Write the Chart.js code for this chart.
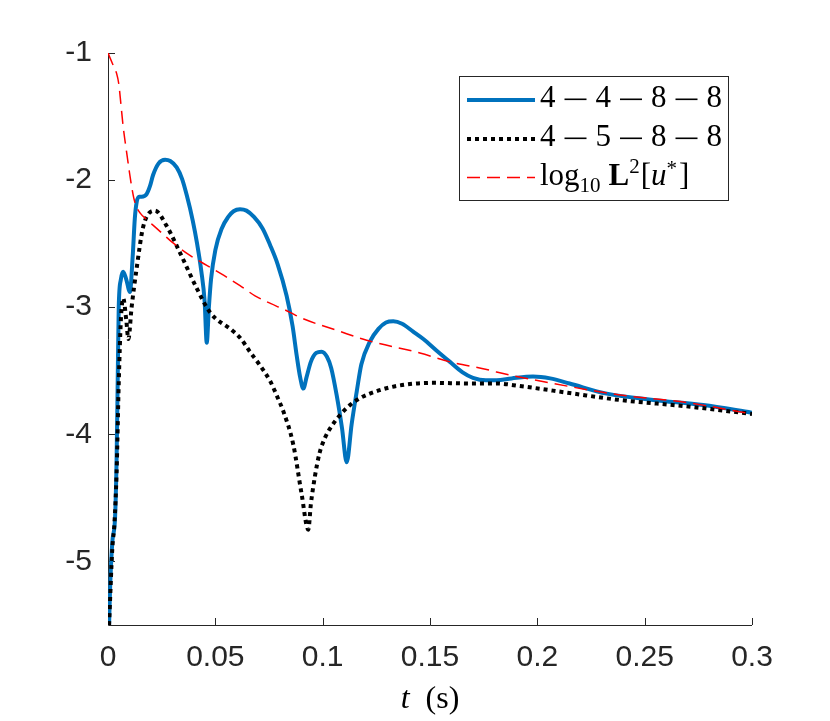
<!DOCTYPE html>
<html>
<head>
<meta charset="utf-8">
<script src="https://cdn.jsdelivr.net/npm/chart.js@4.4.1/dist/chart.umd.min.js"></script>
<style>
  html, body { margin: 0; padding: 0; background: #fff; }
  #wrap { width: 830px; height: 721px; }
</style>
</head>
<body>
<div id="wrap"><canvas id="plot"></canvas></div>
<script>
// values: t in seconds, error in log10
const tBlue = [0.0005, 0.001, 0.002, 0.0033, 0.004, 0.0045, 0.005, 0.006, 0.0071, 0.0085, 0.0102, 0.0115, 0.0125,
  0.0134, 0.0145, 0.0157, 0.018, 0.0195, 0.021, 0.0235, 0.0266, 0.029, 0.032, 0.0345, 0.0367, 0.0395, 0.0415,
  0.0435, 0.045, 0.046, 0.047, 0.048, 0.050, 0.053, 0.056, 0.0585, 0.0615, 0.0645, 0.068, 0.072, 0.0755, 0.079,
  0.0832, 0.086, 0.0879, 0.0895, 0.091, 0.0925, 0.0945, 0.097, 0.0995, 0.102, 0.104, 0.1065, 0.109, 0.1112,
  0.1135, 0.1159, 0.118, 0.122, 0.126, 0.1295, 0.1329, 0.137, 0.142, 0.1469, 0.153, 0.1593, 0.165, 0.170, 0.176,
  0.181, 0.188, 0.198, 0.206, 0.215, 0.2323, 0.254, 0.2773, 0.3];
const errBlue = [-5.5, -5.2, -4.85, -4.65, -4.2, -3.6, -3.0, -2.78, -2.72, -2.78, -2.88, -2.6, -2.3,
  -2.17, -2.13, -2.13, -2.11, -2.05, -1.96, -1.87, -1.84, -1.85, -1.9, -1.99, -2.12, -2.32, -2.5,
  -2.72, -2.95, -3.28, -3.0, -2.78, -2.55, -2.38, -2.29, -2.245, -2.23, -2.24, -2.29, -2.38, -2.51, -2.66,
  -2.91, -3.15, -3.38, -3.55, -3.64, -3.55, -3.43, -3.36, -3.35, -3.39, -3.48, -3.69, -3.95, -4.22,
  -3.92, -3.66, -3.45, -3.27, -3.17, -3.12, -3.11, -3.13, -3.19, -3.25, -3.34, -3.43, -3.51, -3.555, -3.575,
  -3.575, -3.56, -3.545, -3.56, -3.60, -3.68, -3.73, -3.77, -3.83];

const tBlack = [0.0005, 0.002, 0.003, 0.004, 0.005, 0.006, 0.0071, 0.0085, 0.0095, 0.011, 0.0133, 0.0165, 0.0219,
  0.0273, 0.0335, 0.0413, 0.0475, 0.0584, 0.062, 0.0661, 0.0705, 0.0755, 0.079, 0.0817, 0.0863, 0.0902, 0.0933,
  0.0945, 0.0964, 0.0985, 0.101, 0.104, 0.108, 0.1127, 0.118, 0.1252, 0.136, 0.1515, 0.1686, 0.181, 0.1919,
  0.215, 0.2385, 0.2696, 0.3];
const errBlack = [-5.5, -4.9, -4.7, -4.3, -3.6, -3.1, -2.93, -3.1, -3.25, -3.0, -2.70, -2.36, -2.24,
  -2.36, -2.57, -2.85, -3.04, -3.19, -3.25, -3.35, -3.45, -3.58, -3.71, -3.82, -4.08, -4.47, -4.75,
  -4.55, -4.33, -4.15, -4.03, -3.94, -3.85, -3.77, -3.71, -3.66, -3.615, -3.595, -3.60, -3.60, -3.62,
  -3.675, -3.73, -3.78, -3.84];

const tRed = [0, 0.001, 0.002, 0.003, 0.004, 0.005, 0.006, 0.007, 0.008, 0.009, 0.010, 0.011, 0.012, 0.013, 0.015,
  0.018, 0.022, 0.026, 0.030, 0.038, 0.046, 0.054, 0.0615, 0.0685, 0.0848, 0.0894, 0.108, 0.1205, 0.1453, 0.1593,
  0.1764, 0.181, 0.2074, 0.2385, 0.2696, 0.3];
const errRed = [-1.0, -1.04, -1.08, -1.12, -1.16, -1.24, -1.40, -1.57, -1.70, -1.82, -1.94, -2.05, -2.14, -2.20, -2.26,
  -2.31, -2.37, -2.43, -2.49, -2.59, -2.67, -2.75, -2.83, -2.91, -3.04, -3.08, -3.19, -3.26, -3.36, -3.43,
  -3.49, -3.51, -3.60, -3.69, -3.75, -3.84];

const xTickVals = [0, 0.05, 0.1, 0.15, 0.2, 0.25, 0.3];
const yTickVals = [-5, -4, -3, -2, -1];

const axisColor = '#262626';
const tickFont = { family: '"Liberation Sans", Helvetica, Arial, sans-serif', size: 30 };
const serif = '"Liberation Serif", "Times New Roman", serif';

const toPoints = (ts, vs) => ts.map((t, i) => ({ x: t, y: vs[i] }));

// axes drawn MATLAB style: left and bottom only, ticks pointing inward
const axesPlugin = {
  id: 'axesPlugin',
  beforeDatasetsDraw(chart) {
    const { ctx, chartArea: a, scales } = chart;
    ctx.save();
    ctx.strokeStyle = axisColor;
    ctx.lineWidth = 1;
    ctx.beginPath();
    ctx.moveTo(a.left + 0.5, a.top);
    ctx.lineTo(a.left + 0.5, a.bottom + 0.5);
    ctx.lineTo(a.right, a.bottom + 0.5);
    xTickVals.forEach(v => {
      const px = Math.round(scales.x.getPixelForValue(v)) + 0.5;
      ctx.moveTo(px, a.bottom);
      ctx.lineTo(px, a.bottom - 7);
    });
    yTickVals.forEach(v => {
      const py = Math.round(scales.y.getPixelForValue(v)) + 0.5;
      ctx.moveTo(a.left, py);
      ctx.lineTo(a.left + 7, py);
    });
    ctx.stroke();
    ctx.restore();
  },
  afterDraw(chart) {
    const { ctx, chartArea: a } = chart;
    // x axis title: t (s)
    ctx.save();
    ctx.fillStyle = '#000';
    ctx.textBaseline = 'alphabetic';
    const fIt = 'italic 32px ' + serif, fUp = '32px ' + serif;
    ctx.font = fIt; const wT = ctx.measureText('t').width;
    ctx.font = fUp; const wS = ctx.measureText('(s)').width;
    const gap = 16;
    let x0 = (a.left + a.right) / 2 - (wT + gap + wS) / 2;
    ctx.font = fIt; ctx.fillText('t', x0, 708);
    ctx.font = fUp; ctx.fillText('(s)', x0 + wT + gap, 708);
    ctx.restore();
  }
};

// legend with math-style labels
const legendPlugin = {
  id: 'mathLegend',
  afterDraw(chart) {
    const ctx = chart.ctx;
    const box = { l: 459.5, t: 76.5, r: 728.5, b: 200.5 };
    ctx.save();
    ctx.fillStyle = '#fff';
    ctx.fillRect(box.l, box.t, box.r - box.l, box.b - box.t);
    ctx.strokeStyle = axisColor;
    ctx.lineWidth = 1;
    ctx.strokeRect(box.l, box.t, box.r - box.l, box.b - box.t);

    const rows = [{ y: 100, base: 107 }, { y: 139, base: 146 }, { y: 177.5, base: 185 }];
    const ds = chart.data.datasets;
    ds.forEach((d, i) => {
      ctx.save();
      ctx.strokeStyle = d.borderColor;
      ctx.lineWidth = d.borderWidth;
      ctx.setLineDash(d.borderDash || []);
      ctx.beginPath();
      ctx.moveTo(467, rows[i].y);
      ctx.lineTo(535, rows[i].y);
      ctx.stroke();
      ctx.restore();
    });

    ctx.fillStyle = '#000';
    ctx.textBaseline = 'alphabetic';
    const drawDigits = (digits, base) => {
      let x = 540;
      ctx.font = '31px ' + serif;
      digits.forEach((dg, k) => {
        ctx.fillText(dg, x, base);
        x += ctx.measureText(dg).width;
        if (k < digits.length - 1) {
          x += 9;
          ctx.fillRect(x, base - 8.5, 22, 1.6);
          x += 22 + 9;
        }
      });
    };
    drawDigits(['4', '4', '8', '8'], rows[0].base);
    drawDigits(['4', '5', '8', '8'], rows[1].base);

    // log10 L^2[u*]
    const b = rows[2].base;
    let x = 540;
    const put = (txt, font, dy, extra) => {
      ctx.font = font;
      ctx.fillText(txt, x, b + dy);
      x += ctx.measureText(txt).width + (extra || 0);
    };
    put('log', '31px ' + serif, 0);
    put('10', '21px ' + serif, 7, 8);
    put('L', 'bold 31px ' + serif, 0);
    put('2', '21px ' + serif, -12, 1);
    put('[', '31px ' + serif, 0);
    put('u', 'italic 31px ' + serif, 0);
    put('*', '21px ' + serif, -10, 2);
    put(']', '31px ' + serif, 0);
    ctx.restore();
  }
};

new Chart(document.getElementById('plot'), {
  type: 'scatter',
  data: {
    datasets: [
      {
        label: '4 - 4 - 8 - 8',
        data: toPoints(tBlue, errBlue),
        showLine: true,
        borderColor: '#0072BD',
        borderWidth: 4,
        pointRadius: 0,
        cubicInterpolationMode: 'monotone',
        order: 2
      },
      {
        label: '4 - 5 - 8 - 8',
        data: toPoints(tBlack, errBlack),
        showLine: true,
        borderColor: '#000000',
        borderWidth: 4,
        borderDash: [4, 4],
        pointRadius: 0,
        cubicInterpolationMode: 'monotone',
        order: 1
      },
      {
        label: 'log10 L2[u*]',
        data: toPoints(tRed, errRed),
        showLine: true,
        borderColor: '#FF0000',
        borderWidth: 1.5,
        borderDash: [13, 7],
        pointRadius: 0,
        cubicInterpolationMode: 'monotone',
        order: 0
      }
    ]
  },
  options: {
    responsive: true,
    maintainAspectRatio: false,
    animation: false,
    layout: { padding: { left: 0, top: 53, right: 78, bottom: 0 } },
    plugins: {
      legend: { display: false },
      tooltip: { enabled: false }
    },
    scales: {
      x: {
        type: 'linear',
        min: 0,
        max: 0.3,
        grid: { display: false, drawTicks: false },
        border: { display: false },
        afterBuildTicks: s => { s.ticks = xTickVals.map(v => ({ value: v })); },
        afterFit: s => { s.height = 96; },
        ticks: {
          color: axisColor,
          font: tickFont,
          padding: 15,
          maxRotation: 0,
          autoSkip: false,
          callback: v => String(v)
        }
      },
      y: {
        type: 'linear',
        min: -5.5,
        max: -1,
        grid: { display: false, drawTicks: false },
        border: { display: false },
        afterBuildTicks: s => { s.ticks = yTickVals.map(v => ({ value: v })); },
        afterFit: s => { s.width = 108; },
        ticks: {
          color: axisColor,
          font: tickFont,
          padding: 16,
          autoSkip: false,
          callback: v => String(v)
        }
      }
    }
  },
  plugins: [axesPlugin, legendPlugin]
});
</script>
</body>
</html>
